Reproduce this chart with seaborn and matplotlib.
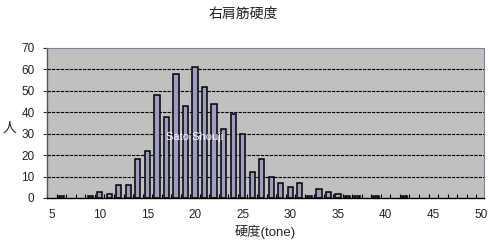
import numpy as np
import pandas as pd
import matplotlib
matplotlib.use("Agg")
import matplotlib.pyplot as plt
import seaborn as sns

# ---- data ----
tone = list(range(5, 51))
counts_map = {6: 1, 9: 1, 10: 3, 11: 2, 12: 6, 13: 6, 14: 18, 15: 22, 16: 48,
              17: 38, 18: 58, 19: 43, 20: 61, 21: 52, 22: 44, 23: 32, 24: 39,
              25: 30, 26: 12, 27: 18, 28: 10, 29: 7, 30: 5, 31: 7, 32: 1,
              33: 4, 34: 3, 35: 2, 36: 1, 37: 1, 39: 1, 42: 1}
people = [counts_map.get(t, 0) for t in tone]
xticks = list(range(5, 51, 5))
yticks = list(range(0, 71, 10))
title = "右肩筋硬度"
xlabel = "硬度(tone)"
ylabel = "人"
watermark = "Sato Shouji"

sns.set_theme(style="white")
plt.rcParams['font.family'] = ['Liberation Sans', 'Noto Sans CJK JP', 'DejaVu Sans']

df = pd.DataFrame({"tone": tone, "people": people})
df = df[df["people"] > 0]

fig = plt.figure(figsize=(4.9, 2.48), dpi=100)
ax = fig.add_axes([47/490, 50/248, 437/490, 150/248])
ax.set_facecolor("#c0c0c0")

for yv in yticks[1:-1]:
    ax.axhline(yv, color="black", linewidth=0.8, linestyle=(0, (3, 1)), zorder=1)

sns.barplot(data=df, x="tone", y="people", native_scale=True, width=0.55,
            color="#9c9cc4", saturation=1, edgecolor="black", linewidth=1.1,
            ax=ax, zorder=2)

ax.set_xlim(4.47, 50.32)
ax.set_ylim(0, 70)
ax.set_xticks(xticks)
ax.set_xticklabels([str(v) for v in xticks], fontsize=8.5, color="#222222")
ax.set_yticks(yticks)
ax.set_yticklabels([str(v) for v in yticks], fontsize=8.5, color="#222222")
ax.set_xticks(np.arange(4.5, 50.5, 1.0), minor=True)
ax.tick_params(axis="x", which="major", length=0, pad=8, bottom=True)
ax.tick_params(axis="x", which="minor", direction="in", length=3, width=0.8,
               color="black", bottom=True)
ax.tick_params(axis="y", which="major", direction="out", length=3, width=0.8,
               color="#333333", pad=6, left=True)

ax.set_xlabel(xlabel, fontsize=9.5, labelpad=3)
ax.set_ylabel(ylabel, fontsize=10, rotation=0, va="center")
ax.yaxis.set_label_coords(-0.085, 0.47)

for side in ["top", "right"]:
    ax.spines[side].set_color("#8080a0")
    ax.spines[side].set_linestyle((0, (2, 1)))
    ax.spines[side].set_linewidth(0.8)
ax.spines["left"].set_color("#555555")
ax.spines["left"].set_linewidth(1.0)
ax.spines["bottom"].set_color("black")
ax.spines["bottom"].set_linewidth(1.0)

ax.text(0.272, 0.41, watermark, transform=ax.transAxes, color="white",
        fontsize=8, ha="left", va="center", zorder=5)

fig.text(0.497, 0.945, title, ha="center", va="center", fontsize=10, color="#222222")

fig.savefig("out.png", dpi=100, facecolor="white")
